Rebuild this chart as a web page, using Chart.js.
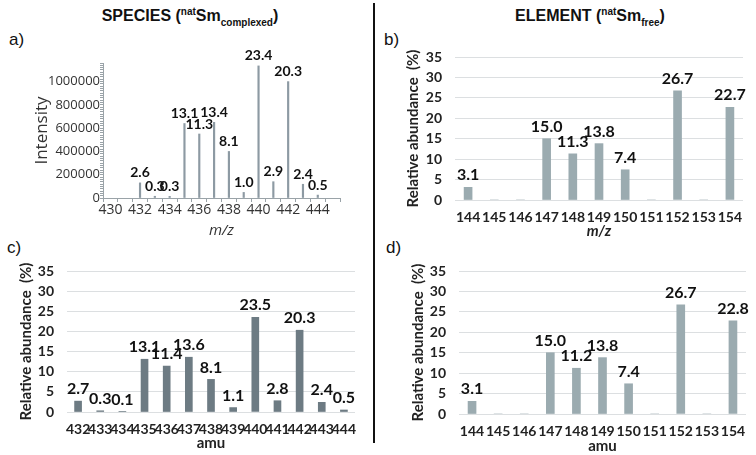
<!DOCTYPE html>
<html>
<head>
<meta charset="utf-8">
<script src="https://cdn.jsdelivr.net/npm/chart.js@4/dist/chart.umd.min.js"></script>
<style>
  body { margin: 0; background: #fff; }
  #wrap { position: relative; width: 756px; height: 455px; overflow: hidden; font-family: "Liberation Sans", Arial, sans-serif; }
  canvas { position: absolute; }
  .head { position: absolute; top: 6px; font-weight: bold; font-size: 16px; color: #111; white-space: nowrap; transform: translateX(-50%); }
  .head sup, .head sub { font-size: 10px; }
  .letter { position: absolute; font-size: 17px; color: #111; }
  #divider { position: absolute; left: 373px; top: 3px; width: 2px; height: 440px; background: #111; }
</style>
</head>
<body>
<div id="wrap">
  <div class="head" style="left:190px">SPECIES (<sup>nat</sup>Sm<sub>complexed</sub>)</div>
  <div class="head" style="left:590px">ELEMENT (<sup>nat</sup>Sm<sub>free</sub>)</div>
  <div class="letter" style="left:9px;top:30px">a)</div>
  <div class="letter" style="left:384px;top:30px">b)</div>
  <div class="letter" style="left:7px;top:238px">c)</div>
  <div class="letter" style="left:386px;top:238px">d)</div>
  <div id="divider"></div>
  <canvas id="ca" width="372" height="240" style="left:0;top:0"></canvas>
  <canvas id="cb" width="376" height="240" style="left:380px;top:0"></canvas>
  <canvas id="cc" width="372" height="215" style="left:0;top:240px"></canvas>
  <canvas id="cd" width="376" height="215" style="left:380px;top:240px"></canvas>
</div>
<script>
// a) mass spectrum of the complexed species
const massA = [432, 433, 434, 435, 436, 437, 438, 439, 440, 441, 442, 443, 444];
const intensityA = [130000, 15000, 14000, 640000, 550000, 650000, 400000, 48000, 1135000, 140000, 1000000, 118000, 25000];
const percentA = [2.6, 0.3, 0.3, 13.1, 11.3, 13.4, 8.1, 1.0, 23.4, 2.9, 20.3, 2.4, 0.5];

// b) element, m/z
const massB = ['144', '145', '146', '147', '148', '149', '150', '151', '152', '153', '154'];
const abundB = [3.1, 0, 0, 15.0, 11.3, 13.8, 7.4, 0, 26.7, 0, 22.7];

// c) species, amu
const massC = ['432', '433', '434', '435', '436', '437', '438', '439', '440', '441', '442', '443', '444'];
const abundC = [2.7, 0.3, 0.1, 13.1, 11.4, 13.6, 8.1, 1.1, 23.5, 2.8, 20.3, 2.4, 0.5];

// d) element, amu
const massD = ['144', '145', '146', '147', '148', '149', '150', '151', '152', '153', '154'];
const abundD = [3.1, 0, 0, 15.0, 11.2, 13.8, 7.4, 0, 26.7, 0, 22.8];

const yTicksAbund = [0, 5, 10, 15, 20, 25, 30, 35];

Chart.defaults.animation = false;
Chart.defaults.responsive = false;
Chart.defaults.devicePixelRatio = 1;
Chart.defaults.plugins.legend.display = false;
Chart.defaults.plugins.tooltip.enabled = false;

const BOLD = '"Lato", "Open Sans", sans-serif';

// value labels drawn above each bar
const valueLabels = {
  id: 'valueLabels',
  afterDatasetsDraw(chart, args, opts) {
    const ctx = chart.ctx;
    const meta = chart.getDatasetMeta(0);
    const vals = chart.data.datasets[0].data;
    ctx.save();
    ctx.font = 'bold ' + opts.size + 'px ' + BOLD;
    ctx.fillStyle = '#111';
    ctx.textAlign = 'center';
    ctx.textBaseline = 'bottom';
    meta.data.forEach((el, i) => {
      const v = typeof vals[i] === 'object' ? vals[i].y : vals[i];
      if (!v) return;
      const txt = opts.labels ? opts.labels[i].toFixed(1) : v.toFixed(1);
      ctx.fillText(txt, el.x, el.y - opts.offset);
    });
    ctx.restore();
  }
};

function fixWidth(w) { return s => { s.width = w; }; }
function fixHeight(h) { return s => { s.height = h; }; }

// panel a
new Chart(document.getElementById('ca'), {
  type: 'bar',
  data: {
    datasets: [{
      data: massA.map((m, i) => ({ x: m, y: intensityA[i] })),
      backgroundColor: '#8d9aa3',
      barThickness: 1.5
    }]
  },
  options: {
    layout: { padding: { top: 63, right: 32, left: 32, bottom: 0 } },
    plugins: { valueLabels: { labels: percentA, size: 14, offset: 3 } },
    scales: {
      x: {
        type: 'linear', min: 430, max: 445,
        afterFit: fixHeight(42),
        border: { color: '#9aa3a8' },
        grid: { drawOnChartArea: false, tickLength: 4, color: '#9aa3a8' },
        ticks: {
          stepSize: 1, autoSkip: false, maxRotation: 0, padding: 0,
          color: '#333', font: { size: 14, family: '"Open Sans", sans-serif' },
          callback: v => (v % 2 === 0 && v < 445) ? String(v) : ''
        },
        title: { display: true, text: 'm/z', color: '#333', padding: 0,
          font: { size: 15, style: 'italic', family: '"Open Sans", sans-serif' } }
      },
      y: {
        min: 0, max: 1160000,
        afterFit: fixWidth(71),
        border: { color: '#9aa3a8' },
        grid: { drawOnChartArea: false, tickLength: 3, color: '#9aa3a8' },
        ticks: {
          stepSize: 20000, autoSkip: false, padding: 0,
          color: '#333', font: { size: 13, family: '"Open Sans", sans-serif' },
          callback: v => (v % 200000 === 0 && v <= 1000000) ? String(v) : ''
        },
        title: { display: true, text: 'Intensity', color: '#333', padding: { top: 0, bottom: 0 },
          font: { size: 17, family: '"Open Sans", sans-serif' } }
      }
    }
  },
  plugins: [valueLabels]
});

function abundChart(id, cats, vals, color, thick, area, xTitle, xItalic) {
  return new Chart(document.getElementById(id), {
    type: 'bar',
    data: { labels: cats, datasets: [{ data: vals, backgroundColor: color, barThickness: thick }] },
    options: {
      layout: { padding: area.pad },
      plugins: { valueLabels: { size: 16, offset: 4 } },
      scales: {
        x: {
          afterFit: fixHeight(area.xh),
          border: { display: false },
          grid: { display: false, drawTicks: false },
          ticks: { padding: area.tp, autoSkip: false, maxRotation: 0, color: '#222',
            font: { size: 14, weight: 'bold', family: BOLD } },
          title: { display: true, text: xTitle, color: '#222', padding: 0,
            font: { size: 15, weight: 'bold', style: xItalic ? 'italic' : 'normal', family: BOLD } }
        },
        y: {
          min: 0, max: 35,
          afterFit: fixWidth(area.yw),
          afterBuildTicks: s => { s.ticks = yTicksAbund.map(v => ({ value: v })); },
          border: { display: false },
          grid: { color: '#dcdfe1', drawTicks: false },
          ticks: { padding: area.yp, color: '#222', font: { size: 14, weight: 'bold', family: BOLD } },
          title: { display: true, text: 'Relative abundance  (%)', color: '#222', padding: 0,
            font: { size: 15, weight: 'bold', family: BOLD } }
        }
      }
    },
    plugins: [valueLabels]
  });
}

// canvas b: left 380, chart area 455..743 x 57..200
abundChart('cb', massB, abundB, '#9babb0', 8,
  { pad: { left: 24, right: 13, top: 57, bottom: 0 }, yw: 51, xh: 40, tp: 9, yp: 13 }, 'm/z', true);
// canvas c: top 240, chart area 67..355 x 271..412
abundChart('cc', massC, abundC, '#6d7b83', 7,
  { pad: { left: 17, right: 17, top: 31, bottom: 3 }, yw: 50, xh: 40, tp: 9, yp: 13 }, 'amu', false);
// canvas d: left 380 top 240, chart area 459..746 x 271..414
abundChart('cd', massD, abundD, '#9babb0', 8,
  { pad: { left: 29, right: 10, top: 31, bottom: 0 }, yw: 50, xh: 41, tp: 9, yp: 13 }, 'amu', false);
</script>
</body>
</html>
